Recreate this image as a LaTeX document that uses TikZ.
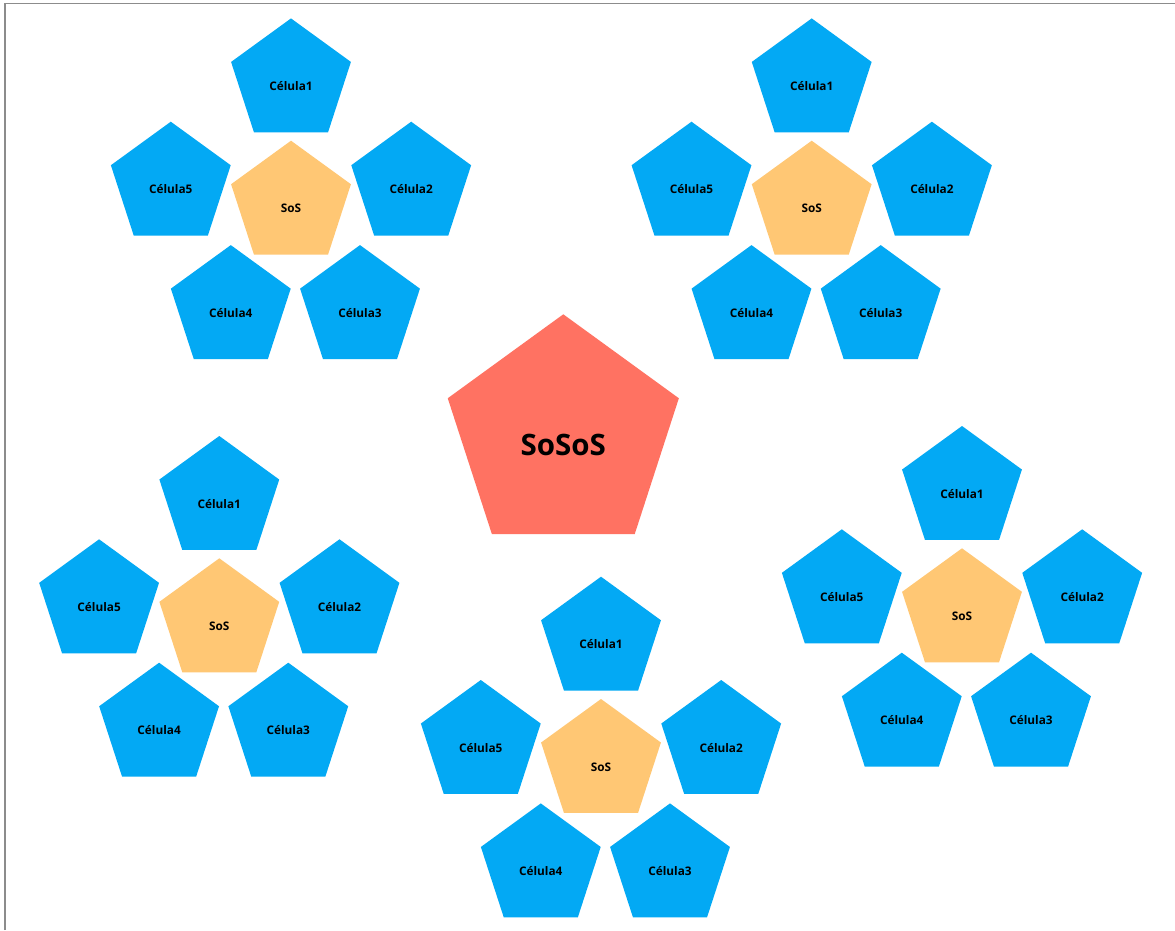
\documentclass[tikz,border=0pt]{standalone}
\usepackage{fontspec}
\setmainfont{Open Sans}
\usetikzlibrary{shapes.geometric}
\definecolor{cellblue}{RGB}{3,169,244}
\definecolor{sosorange}{RGB}{255,199,116}
\definecolor{mainred}{RGB}{255,114,98}
\definecolor{framegray}{RGB}{140,140,140}
\tikzset{
  pent/.style={regular polygon, regular polygon sides=5, draw=none, inner sep=0pt, outer sep=0pt, minimum size=126pt},
  cellpent/.style={pent, fill=cellblue},
  sospent/.style={pent, fill=sosorange},
  mainpent/.style={pent, fill=mainred, minimum size=243pt},
  lbl/.style={anchor=base, inner sep=0pt, font=\bfseries\fontsize{11.8}{14}\selectfont, text=black},
  biglbl/.style={anchor=base, inner sep=0pt, font=\bfseries\fontsize{29.5}{34}\selectfont, text=black},
  frameline/.style={draw=framegray, line width=1.5pt},
}
\newcommand\sosgroup[3]{%
  \node[sospent] (#1s) at (#2,#3) {};
  \node[lbl] (#1st) at ([yshift=-9pt]#1s.center) {SoS};
  \node[cellpent] (#1c1) at (#2,#3-122.3) {};
  \node[lbl] (#1c1t) at ([yshift=-9pt]#1c1.center) {Célula1};
  \node[cellpent] (#1c2) at (#2+120.2,#3-19) {};
  \node[lbl] (#1c2t) at ([yshift=-9pt]#1c2.center) {Célula2};
  \node[cellpent] (#1c3) at (#2+69,#3+104.4) {};
  \node[lbl] (#1c3t) at ([yshift=-9pt]#1c3.center) {Célula3};
  \node[cellpent] (#1c4) at (#2-60.2,#3+104.4) {};
  \node[lbl] (#1c4t) at ([yshift=-9pt]#1c4.center) {Célula4};
  \node[cellpent] (#1c5) at (#2-120.2,#3-19) {};
  \node[lbl] (#1c5t) at ([yshift=-9pt]#1c5.center) {Célula5};
}
\begin{document}
\begin{tikzpicture}[x=1pt,y=-1pt]
  \useasboundingbox (0,0) rectangle (1175,930);
  \fill[white] (0,0) rectangle (1175,930);
  \coordinate (fbl) at (5,930);
  \coordinate (ftl) at (5,3.5);
  \coordinate (ftr) at (1175,3.5);
  \draw[frameline] (fbl) -- (ftl) -- (ftr);

  \node[mainpent] (main) at (563.3,435.8) {};
  \node[biglbl] (maint) at ([yshift=-20pt]main.center) {SoSoS};

  \sosgroup{ga}{291}{203.7}
  \sosgroup{gb}{811.7}{203.7}
  \sosgroup{gc}{219.3}{621.3}
  \sosgroup{gd}{601}{762}
  \sosgroup{ge}{962}{611.3}
\end{tikzpicture}
\end{document}
